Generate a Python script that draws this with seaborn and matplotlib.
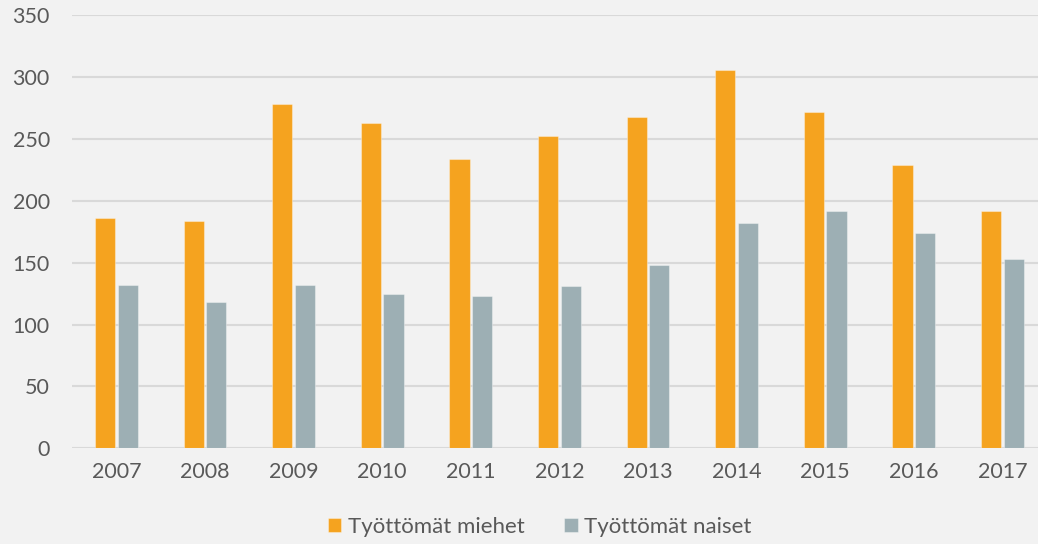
import pandas as pd
import matplotlib
matplotlib.use("Agg")
import matplotlib.pyplot as plt
import seaborn as sns

years = ["2007", "2008", "2009", "2010", "2011", "2012", "2013", "2014", "2015", "2016", "2017"]
miehet = [186, 184, 278, 263, 234, 252, 268, 306, 272, 229, 192]
naiset = [132, 118, 132, 125, 123, 131, 148, 182, 192, 174, 153]
series = ["Työttömät miehet", "Työttömät naiset"]
colors = ["#F5A31F", "#9DAFB4"]

df = pd.DataFrame({
    "Vuosi": years * 2,
    "Arvo": miehet + naiset,
    "Sarja": [series[0]] * len(years) + [series[1]] * len(years),
})

sns.set_style("white")
plt.rcParams["font.family"] = ["Lato", "DejaVu Sans"]
bg = "#F2F2F2"
txt = "#595959"

fig = plt.figure(figsize=(10.38, 5.44), dpi=100, facecolor=bg)
# axes runs a little past the right edge, as in the original
ax = fig.add_axes([0.0694, 0.176, 0.939, 0.796])
ax.set_facecolor(bg)

sns.barplot(data=df, x="Vuosi", y="Arvo", hue="Sarja", palette=colors,
            width=0.51, gap=0.11, ax=ax, saturation=1, legend=True,
            edgecolor=(1, 1, 1, 0.35), linewidth=0.8)

ax.set_ylim(0, 350)
ax.set_yticks(range(0, 351, 50))
ax.yaxis.grid(True, color="#D9D9D9", linewidth=1.5)
ax.set_axisbelow(True)
for s in ax.spines.values():
    s.set_visible(False)
ax.tick_params(axis="both", length=0, labelsize=15.5, labelcolor=txt)
ax.tick_params(axis="x", pad=10)
ax.tick_params(axis="y", pad=16)
ax.set_xlabel("")
ax.set_ylabel("")

handles, labels = ax.get_legend_handles_labels()
fig.legend(handles, labels, loc="center", bbox_to_anchor=(0.52, 0.032),
           ncol=2, frameon=False, fontsize=16, labelcolor=txt,
           handlelength=0.6, handleheight=0.6, handletextpad=0.3, columnspacing=1.8)
ax.get_legend().remove()

fig.savefig("out.png", dpi=100, facecolor=bg)
